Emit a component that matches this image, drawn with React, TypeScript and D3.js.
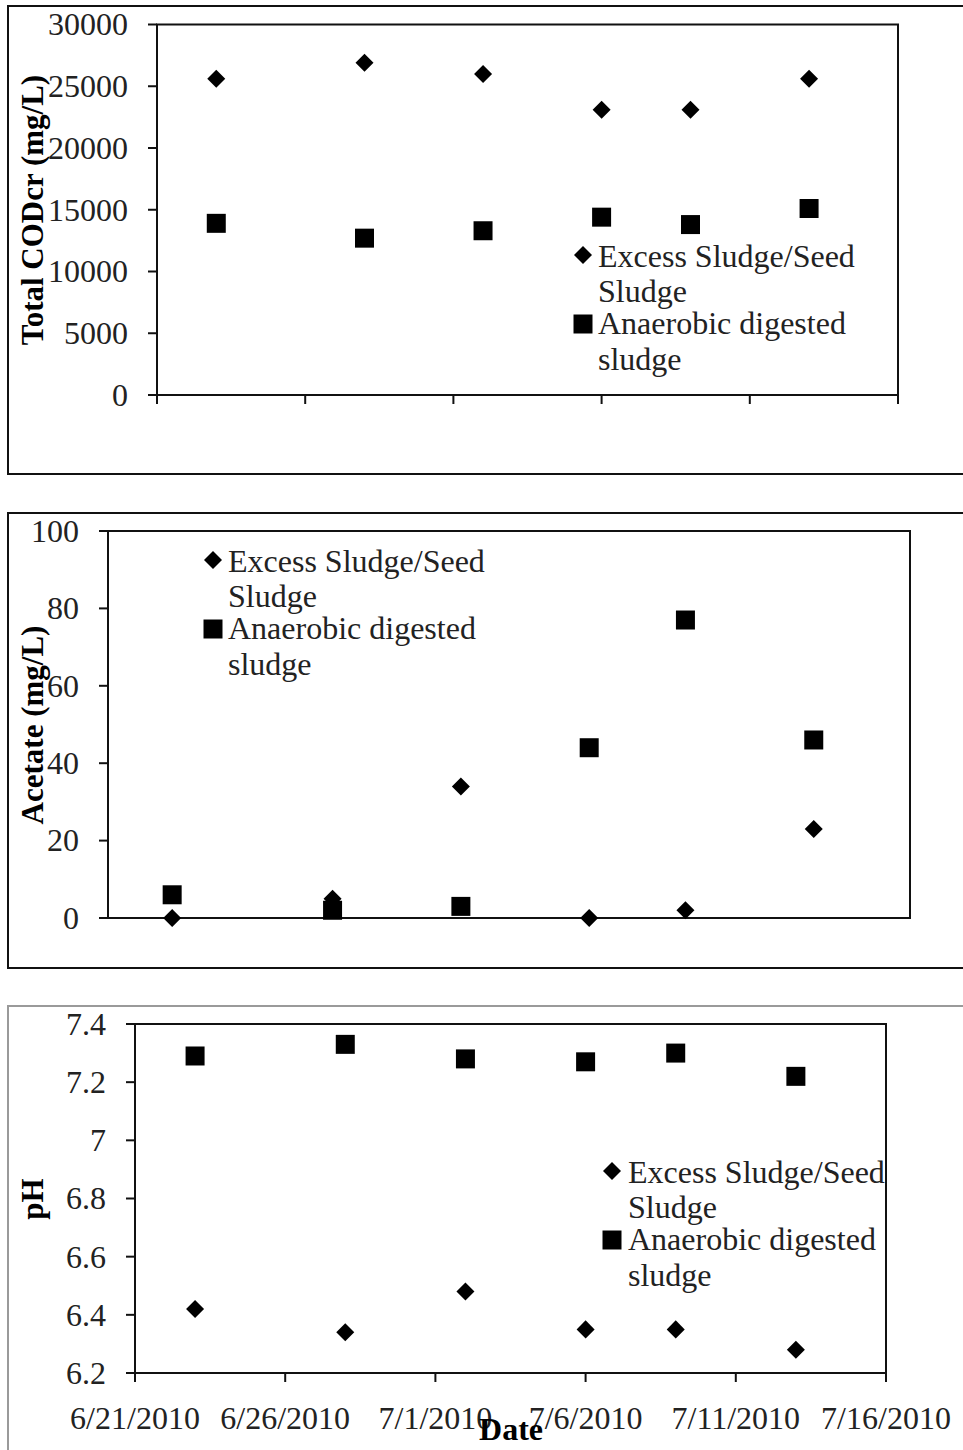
import React from "react";
import * as d3 from "d3";

// Sampling dates shared by all three panels
const sampleDates = ["2010-06-23", "2010-06-28", "2010-07-02", "2010-07-06", "2010-07-09", "2010-07-13"];
const dateDomain = ["2010-06-21", "2010-07-16"];
const dateTicks = ["2010-06-21", "2010-06-26", "2010-07-01", "2010-07-06", "2010-07-11", "2010-07-16"];

// Total CODcr (mg/L)
const codExcess = [25600, 26900, 26000, 23100, 23100, 25600];
const codAnaerobic = [13900, 12700, 13300, 14400, 13800, 15100];
const codTicks = [0, 5000, 10000, 15000, 20000, 25000, 30000];

// Acetate (mg/L)
const acetateExcess = [0, 5, 34, 0, 2, 23];
const acetateAnaerobic = [6, 2, 3, 44, 77, 46];
const acetateTicks = [0, 20, 40, 60, 80, 100];

// pH
const phExcess = [6.42, 6.34, 6.48, 6.35, 6.35, 6.28];
const phAnaerobic = [7.29, 7.33, 7.28, 7.27, 7.3, 7.22];
const phTicks = [6.2, 6.4, 6.6, 6.8, 7.0, 7.2, 7.4];

// Legend entries (wrapped over two lines each)
const legendExcess = ["Excess Sludge/Seed", "Sludge"];
const legendAnaerobic = ["Anaerobic digested", "sludge"];

const parseDate = d3.timeParse("%Y-%m-%d");
const formatDate = d3.timeFormat("%-m/%-d/%Y");

const FONT = "'Liberation Serif', 'Times New Roman', Times, serif";
const INK = "#111";

const diamondPath = d3.symbol(d3.symbolSquare, 162)() as string;
const squarePath = d3.symbol(d3.symbolSquare, 361)() as string;

type PanelProps = {
  frame: { x: number; y: number; w: number; h: number; stroke: string };
  plot: { left: number; right: number; top: number; bottom: number };
  yDomain: [number, number];
  yTicks: number[];
  yFormat: (v: number) => string;
  yTitle: string;
  yTitleCenter: number;
  excess: number[];
  anaerobic: number[];
  legend: { markerX: number; textX: number; baseline: number };
  showXTicks: boolean;
  showXLabels: boolean;
  xTitle?: { text: string; x: number; y: number };
};

function Diamond({ x, y }: { x: number; y: number }) {
  return <path d={diamondPath} transform={`translate(${x},${y}) rotate(45)`} fill="#000" />;
}

function Square({ x, y }: { x: number; y: number }) {
  return <path d={squarePath} transform={`translate(${x},${y})`} fill="#000" />;
}

function Panel(p: PanelProps) {
  const x = d3
    .scaleTime()
    .domain(dateDomain.map((d) => parseDate(d) as Date))
    .range([p.plot.left, p.plot.right]);
  const y = d3.scaleLinear().domain(p.yDomain).range([p.plot.bottom, p.plot.top]);
  const dates = sampleDates.map((d) => parseDate(d) as Date);
  const ticks = dateTicks.map((d) => parseDate(d) as Date);
  const lineOffsets = [0, 35, 67, 103];

  return (
    <g>
      {/* outer panel border */}
      <rect
        x={p.frame.x}
        y={p.frame.y}
        width={p.frame.w}
        height={p.frame.h}
        fill="#fff"
        stroke={p.frame.stroke}
        strokeWidth={2}
      />
      {/* plot frame */}
      <rect
        x={p.plot.left}
        y={p.plot.top}
        width={p.plot.right - p.plot.left}
        height={p.plot.bottom - p.plot.top}
        fill="none"
        stroke={INK}
        strokeWidth={2}
      />
      {/* y axis ticks and labels */}
      {p.yTicks.map((t) => (
        <g key={t}>
          <line x1={p.plot.left - 9} x2={p.plot.left} y1={y(t)} y2={y(t)} stroke={INK} strokeWidth={2} />
          <text
            x={p.plot.left - 29}
            y={y(t)}
            dy="0.34em"
            textAnchor="end"
            fontFamily={FONT}
            fontSize={32}
            fill="#222"
          >
            {p.yFormat(t)}
          </text>
        </g>
      ))}
      {/* x axis ticks */}
      {p.showXTicks &&
        ticks.map((t) => (
          <line
            key={+t}
            x1={x(t)}
            x2={x(t)}
            y1={p.plot.bottom}
            y2={p.plot.bottom + 9}
            stroke={INK}
            strokeWidth={2}
          />
        ))}
      {p.showXLabels &&
        ticks.map((t) => (
          <text
            key={+t}
            x={x(t)}
            y={p.plot.bottom + 56}
            textAnchor="middle"
            fontFamily={FONT}
            fontSize={32}
            fill="#222"
          >
            {formatDate(t)}
          </text>
        ))}
      {/* y axis title */}
      <text
        transform={`translate(43,${p.yTitleCenter}) rotate(-90)`}
        textAnchor="middle"
        fontFamily={FONT}
        fontWeight="bold"
        fontSize={31}
        fill="#000"
      >
        {p.yTitle}
      </text>
      {p.xTitle && (
        <text
          x={p.xTitle.x}
          y={p.xTitle.y}
          textAnchor="middle"
          fontFamily={FONT}
          fontWeight="bold"
          fontSize={32}
          fill="#000"
        >
          {p.xTitle.text}
        </text>
      )}
      {/* data points */}
      {dates.map((d, i) => (
        <Square key={`a${i}`} x={x(d)} y={y(p.anaerobic[i])} />
      ))}
      {dates.map((d, i) => (
        <Diamond key={`e${i}`} x={x(d)} y={y(p.excess[i])} />
      ))}
      {/* legend */}
      <g fontFamily={FONT} fontSize={32} fill="#222">
        <Diamond x={p.legend.markerX} y={p.legend.baseline - 12} />
        <Square x={p.legend.markerX} y={p.legend.baseline + lineOffsets[2] - 10} />
        {[...legendExcess, ...legendAnaerobic].map((line, i) => (
          <text key={i} x={p.legend.textX} y={p.legend.baseline + lineOffsets[i]}>
            {line}
          </text>
        ))}
      </g>
    </g>
  );
}

export default function App() {
  const fmtPlain = (v: number) => String(v);
  const fmtPh = (v: number) => d3.format("~g")(+v.toFixed(1));
  return (
    <svg
      width={963}
      height={1450}
      style={{ position: "absolute", left: 0, top: 0, background: "#fff" }}
    >
      <rect x={0} y={0} width={963} height={1450} fill="#fff" />
      <Panel
        frame={{ x: 8, y: 6, w: 980, h: 468, stroke: "#111" }}
        plot={{ left: 157, right: 898, top: 24.5, bottom: 395 }}
        yDomain={[0, 30000]}
        yTicks={codTicks}
        yFormat={fmtPlain}
        yTitle="Total CODcr (mg/L)"
        yTitleCenter={210}
        excess={codExcess}
        anaerobic={codAnaerobic}
        legend={{ markerX: 583, textX: 598, baseline: 267 }}
        showXTicks={true}
        showXLabels={false}
      />
      <Panel
        frame={{ x: 8, y: 513, w: 980, h: 455, stroke: "#111" }}
        plot={{ left: 108, right: 910, top: 531, bottom: 918 }}
        yDomain={[0, 100]}
        yTicks={acetateTicks}
        yFormat={fmtPlain}
        yTitle="Acetate (mg/L)"
        yTitleCenter={725}
        excess={acetateExcess}
        anaerobic={acetateAnaerobic}
        legend={{ markerX: 213, textX: 228, baseline: 572 }}
        showXTicks={false}
        showXLabels={false}
      />
      <Panel
        frame={{ x: 8, y: 1006, w: 980, h: 480, stroke: "#9a9a9a" }}
        plot={{ left: 135, right: 886, top: 1024, bottom: 1373 }}
        yDomain={[6.2, 7.4]}
        yTicks={phTicks}
        yFormat={fmtPh}
        yTitle="pH"
        yTitleCenter={1199}
        excess={phExcess}
        anaerobic={phAnaerobic}
        legend={{ markerX: 612, textX: 628, baseline: 1183 }}
        showXTicks={true}
        showXLabels={true}
        xTitle={{ text: "Date", x: 511, y: 1440 }}
      />
    </svg>
  );
}
